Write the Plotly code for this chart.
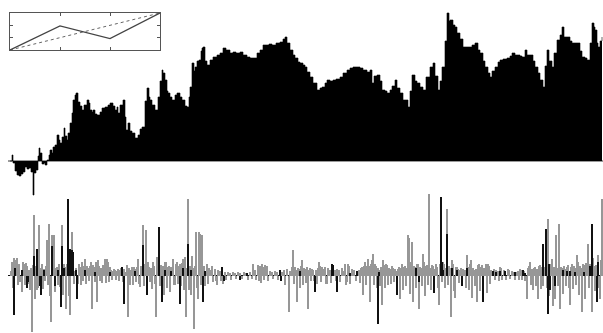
import plotly.graph_objects as go

# ---- top panel: cumulative series (day, value) ----
top_day = [10,12,13,15,17,19,21,23,25,27,29,31,33,34,36,38,39,40,42,44,45,47,49,50,52,53,55,57,59,60,62,64,65,67,68,70,72,73,75,76,78,80,82,84,87,89,90,92,93,95,97,100,102,105,108,110,113,115,117,118,120,123,125,126,128,130,132,135,138,140,142,145,147,149,150,152,155,158,160,162,163,165,167,168,170,172,175,177,180,182,185,187,189,190,192,194,195,197,199,201,202,203,205,207,210,213,217,220,223,226,230,233,236,240,243,247,250,253,257,260,263,266,269,272,276,280,283,285,287,290,293,295,298,300,303,305,307,310,313,317,320,322,325,327,330,333,336,340,343,347,350,353,357,360,363,367,370,372,374,377,380,382,385,387,390,392,395,397,400,403,405,408,410,412,415,417,420,423,426,430,433,435,438,440,442,445,447,449,450,453,455,457,458,460,463,466,468,472,475,478,480,483,485,488,490,492,495,498,500,503,507,510,512,515,517,520,522,525,527,530,533,535,538,540,543,545,547,549,552,554,557,560,562,564,566,568,570,572,575,577,580,582,585,587,590,592,594,595,597,598,600,602]
top_val = [0,6,-2,-10,-14,-15,-13,-11,-6,-8,-7,-11,-34,-12,-9,5,13,8,-3,-2,-4,1,6,11,8,14,16,26,21,18,24,33,25,21,28,38,48,61,66,68,59,55,51,56,61,58,51,49,51,47,46,49,53,54,56,58,55,51,54,48,56,61,44,31,38,30,28,23,26,32,34,60,73,64,61,56,51,64,80,91,88,81,70,68,64,61,66,68,64,61,55,54,64,74,98,90,94,100,101,110,113,114,100,96,101,104,106,108,113,111,108,109,108,109,106,104,103,103,108,111,116,116,117,116,118,119,122,124,118,111,106,103,99,98,96,94,89,84,78,71,73,74,78,81,80,81,82,84,88,91,93,94,94,93,91,89,91,78,85,86,80,71,70,68,71,75,81,73,68,61,61,54,70,86,80,78,74,71,84,94,98,85,71,80,94,120,148,140,141,136,134,128,128,122,114,114,114,116,118,111,108,100,94,88,84,90,94,99,101,102,103,105,108,106,106,105,104,111,106,106,100,94,88,81,74,95,111,100,94,108,121,126,134,124,124,124,120,118,118,118,110,104,103,101,118,138,134,131,118,114,120,124]

# ---- bottom panel: daily changes, two groups ----
grey_day = [11,12,13,14,15,16,17,18,19,20,22,23,24,25,26,27,28,29,30,31,32,33,34,35,36,37,38,39,40,41,42,43,44,45,46,47,48,49,50,51,52,53,54,55,56,57,58,59,60,62,63,64,65,66,67,68,69,70,71,72,73,74,75,76,78,79,80,81,82,83,84,85,86,87,88,89,90,91,92,93,94,95,96,97,98,99,100,101,102,103,104,105,106,107,108,109,110,111,112,113,114,115,116,117,118,119,120,121,123,124,126,127,128,129,130,131,132,133,134,135,136,137,138,139,140,141,142,143,144,145,146,147,148,149,150,151,152,153,154,155,156,157,158,159,160,161,162,163,164,165,166,167,168,169,170,171,172,173,174,175,176,177,178,179,180,181,182,183,184,185,186,187,188,189,190,191,192,193,194,195,196,197,198,199,200,201,202,204,205,207,208,209,211,212,213,215,216,217,218,220,221,223,225,226,228,230,231,233,235,236,238,240,242,244,246,248,250,252,253,255,256,258,259,260,261,262,263,264,265,266,267,268,270,272,273,275,277,278,282,284,285,287,289,290,292,293,294,295,296,297,298,299,300,301,302,303,304,305,306,307,308,309,310,311,312,313,314,316,317,318,319,320,321,322,323,325,326,327,328,330,331,333,335,336,337,339,340,342,343,345,346,347,348,349,350,352,354,356,357,359,360,361,362,363,364,365,366,367,368,369,370,371,372,373,374,375,376,377,378,379,380,381,382,383,384,385,386,387,388,389,390,391,392,393,394,395,396,397,398,399,400,401,402,403,404,405,406,407,408,409,410,411,412,413,414,415,416,417,418,419,420,421,422,423,424,425,426,427,428,429,430,431,432,433,434,435,436,437,438,439,440,441,442,443,444,445,446,447,448,449,450,451,452,453,454,455,456,457,458,459,460,461,462,463,464,465,466,467,468,469,470,471,472,473,474,475,476,477,478,479,480,481,482,483,484,485,486,487,488,489,490,491,492,494,495,496,498,499,500,501,502,504,505,506,508,509,510,512,514,515,517,518,519,520,521,522,524,525,527,528,529,530,531,532,533,534,535,536,537,538,539,540,541,542,543,544,545,546,547,548,549,550,551,552,553,554,555,556,557,558,559,560,561,562,563,564,565,566,567,568,569,570,571,572,573,574,575,576,577,578,579,580,581,582,583,584,585,586,587,588,589,590,591,592,593,594,595,596,597,598,599,600,601,602]
grey_val = [5,14,-12,18,16,10,18,-9,12,-6,-16,14,12,-9,13,10,-8,6,-14,8,-56,11,61,-23,10,-14,-12,51,8,-6,12,-13,7,-5,10,36,-9,52,-20,-46,41,16,41,-16,8,9,-9,12,-11,51,-19,12,9,-33,12,20,-20,-39,27,44,16,-8,5,8,-8,12,9,-9,14,-5,10,17,-8,10,8,-5,10,14,-33,11,9,-6,14,-26,16,10,-5,8,-7,11,7,17,-7,17,14,-6,9,6,-4,5,7,6,-4,5,7,-5,6,8,-6,7,4,11,-41,8,-9,6,9,-9,9,7,-6,9,17,-8,-11,10,8,51,-10,12,46,-7,14,9,-6,8,-13,14,10,-8,-41,19,9,12,-10,11,8,10,-19,14,14,-12,9,10,-16,9,6,17,-9,-9,12,14,-8,10,12,-10,13,17,-14,19,-41,8,77,-14,10,-19,20,8,-53,10,44,-12,-23,44,42,-9,41,10,-10,12,-8,8,6,10,-6,7,-5,-9,6,5,-5,-8,4,-4,4,3,-4,4,3,-3,4,3,-3,4,3,-4,4,-3,12,6,-4,11,-5,10,-7,12,9,-4,11,7,10,-5,5,4,-3,5,4,-4,4,6,-9,7,-36,5,9,26,-8,9,6,-26,8,7,-12,10,16,-9,8,7,-7,9,-33,6,8,-5,7,6,-5,6,-8,8,14,10,-6,9,7,9,-8,-8,8,6,-7,5,6,-5,7,6,-6,8,5,12,-9,-6,12,10,-8,7,6,-5,5,6,-7,8,9,-19,10,14,-9,10,17,10,-26,12,16,22,-9,12,10,-12,8,6,-10,9,-29,16,11,-12,12,11,-9,8,7,-8,10,8,-6,7,5,-10,7,9,-23,8,12,-14,9,10,-10,8,41,38,-18,14,34,-26,10,9,-12,12,12,-33,9,8,-10,22,14,-20,10,11,-9,82,8,-14,11,10,-11,7,12,9,-12,-29,12,14,-6,14,12,-12,8,67,-9,10,8,-41,16,12,-15,-22,9,9,7,-7,6,8,-9,7,5,6,-12,21,9,-14,12,16,-22,8,6,-10,7,-26,11,12,-15,9,11,-10,8,7,12,-17,12,10,-8,6,5,7,-4,6,5,-5,9,8,-4,6,5,-4,7,6,-3,5,4,-4,4,5,-4,7,6,-4,5,-5,-23,8,10,14,-9,7,-14,8,9,-10,7,-23,10,11,-13,9,-10,8,9,8,-12,57,-20,10,12,17,-30,9,-23,41,8,-10,52,-33,9,8,-18,10,7,-10,9,11,-12,-29,9,12,-13,10,8,-9,21,14,-19,10,8,-36,12,11,-23,13,9,32,-12,12,10,-36,18,10,-15,11,8,21,-12,-23,16,77]

black_day = [14,15,22,27,28,34,37,40,41,44,52,55,58,61,62,64,68,70,72,73,76,77,85,95,110,122,124,135,143,147,159,162,165,171,180,183,188,191,203,205,222,224,240,247,280,281,300,315,332,333,337,350,357,378,379,397,416,419,434,441,442,443,447,452,457,462,467,483,493,496,500,505,515,523,525,543,546,548,549,550,555,563,567,570,575,584,590,592,597,598]
black_val = [-39,8,6,-12,-6,20,27,-10,-19,6,30,-10,6,-31,30,8,77,27,26,24,6,-23,6,4,4,9,-28,5,31,-19,49,-26,6,5,-28,8,32,6,-26,5,9,-5,-4,3,6,-5,5,-16,12,11,-16,3,5,-48,4,-19,8,-6,-17,79,14,6,42,8,6,-10,8,-26,5,4,5,5,4,6,3,32,47,-38,12,-14,-10,6,5,5,4,4,10,52,-26,14]

# ---- inset ----
inset_x = [0, 1, 2, 3]
inset_solid = [0, 0.65, 0.31, 1]
inset_ref_x = [0, 3]
inset_ref_y = [0, 1]

W, H = 603, 333

fig = go.Figure()
fig.add_trace(go.Scatter(x=top_day, y=top_val, mode="lines", line=dict(color="#000", width=0.6, shape="hv"),
                         fill="tozeroy", fillcolor="#000", xaxis="x", yaxis="y", hoverinfo="skip"))
fig.add_trace(go.Bar(x=grey_day, y=grey_val, width=1.35, marker=dict(color="#979797", line=dict(width=0)),
                     xaxis="x2", yaxis="y2"))
fig.add_trace(go.Bar(x=black_day, y=black_val, width=1.5, marker=dict(color="#111", line=dict(width=0)),
                     xaxis="x2", yaxis="y2"))
fig.add_trace(go.Scatter(x=inset_ref_x, y=inset_ref_y, mode="lines", line=dict(color="#666", width=1, dash="dot"),
                         xaxis="x3", yaxis="y3"))
fig.add_trace(go.Scatter(x=inset_x, y=inset_solid, mode="lines", line=dict(color="#444", width=1.3),
                         xaxis="x3", yaxis="y3"))

hidden = dict(showgrid=False, showticklabels=False, ticks="", showline=False)
fig.update_layout(
    width=W, height=H, margin=dict(l=0, r=0, t=0, b=0),
    paper_bgcolor="white", plot_bgcolor="rgba(0,0,0,0)",
    showlegend=False, barmode="overlay", bargap=0,
    xaxis=dict(domain=[8 / 603, 1], range=[8, 603], zeroline=False, **hidden),
    yaxis=dict(domain=[1 - 200 / 333, 1], range=[-39, 161], zeroline=True, zerolinecolor="#9a9a9a",
               zerolinewidth=2, **hidden),
    xaxis2=dict(domain=[8 / 603, 1], range=[8, 603], anchor="y2", zeroline=False, **hidden),
    yaxis2=dict(domain=[0, 148 / 333], range=[-57.5, 90.5], anchor="x2", zeroline=True,
                zerolinecolor="#111", zerolinewidth=1.5, **hidden),
    xaxis3=dict(domain=[10 / 603, 160 / 603], range=[0, 3], anchor="y3", showgrid=False, zeroline=False,
                showline=True, mirror="ticks", linecolor="#555", linewidth=1, ticks="inside", ticklen=3,
                tickcolor="#555", tickvals=[1, 2], showticklabels=False),
    yaxis3=dict(domain=[(333 - 50) / 333, (333 - 13) / 333], range=[0, 1], anchor="x3", showgrid=False,
                zeroline=False, showline=True, mirror="ticks", linecolor="#555", linewidth=1, ticks="inside",
                ticklen=3, tickcolor="#555", tickvals=[1 / 3, 2 / 3], showticklabels=False),
)

fig.write_html("out.html", config={"displayModeBar": False, "staticPlot": True},
               post_script="document.body.style.margin='0px';document.body.style.overflow='hidden';")
